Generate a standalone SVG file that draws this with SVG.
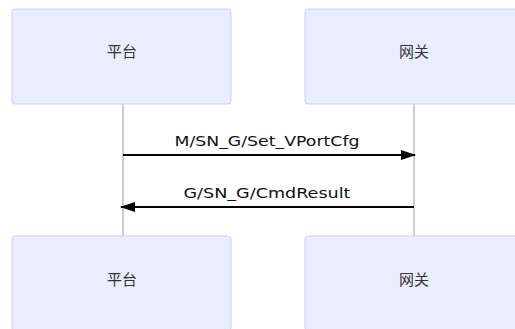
<svg xmlns="http://www.w3.org/2000/svg" width="515" height="329" viewBox="0 0 515 329">
<style>
.actor{fill:#ECECFF;stroke:#CCCCFF;stroke-width:1}
.atext{font-family:"Noto Sans CJK SC","Noto Sans",sans-serif;font-size:15px;fill:#333;text-anchor:middle;dominant-baseline:central}
.life{stroke:#999;stroke-width:1;fill:none}
.msg{stroke:#000;stroke-width:2;fill:none}
.mtext{font-family:"DejaVu Sans",sans-serif;font-size:14.5px;fill:#111;text-anchor:middle}
</style>
<defs>
<marker id="ah" viewBox="0 0 15 10" refX="14" refY="5" markerWidth="15" markerHeight="10" markerUnits="userSpaceOnUse" orient="auto">
<path d="M0,0 L15,5 L0,10 z" fill="#000"/>
</marker>
</defs>
<rect width="515" height="329" fill="#fff"/>
<g id="lifelines">
<line class="life" x1="123" y1="104" x2="123" y2="236"/>
<line class="life" x1="414" y1="104" x2="414" y2="236"/>
</g>
<g id="actor-platform-top">
<rect class="actor" x="12" y="9" width="219" height="95" rx="3"/>
<text class="atext" x="122" y="50">平台</text>
</g>
<g id="actor-gateway-top">
<rect class="actor" x="305" y="9" width="219" height="95" rx="3"/>
<text class="atext" x="414" y="50">网关</text>
</g>
<g id="actor-platform-bottom">
<rect class="actor" x="12" y="236" width="219" height="95" rx="3"/>
<text class="atext" x="122" y="278">平台</text>
</g>
<g id="actor-gateway-bottom">
<rect class="actor" x="305" y="236" width="219" height="95" rx="3"/>
<text class="atext" x="414" y="278">网关</text>
</g>
<g id="connectors">
<line class="msg" x1="123" y1="155" x2="415" y2="155" marker-end="url(#ah)"/>
<text class="mtext" x="267" y="146" textLength="185" lengthAdjust="spacingAndGlyphs">M/SN_G/Set_VPortCfg</text>
<line class="msg" x1="414" y1="207" x2="121" y2="207" marker-end="url(#ah)"/>
<text class="mtext" x="267" y="198" textLength="167" lengthAdjust="spacingAndGlyphs">G/SN_G/CmdResult</text>
</g>
</svg>
